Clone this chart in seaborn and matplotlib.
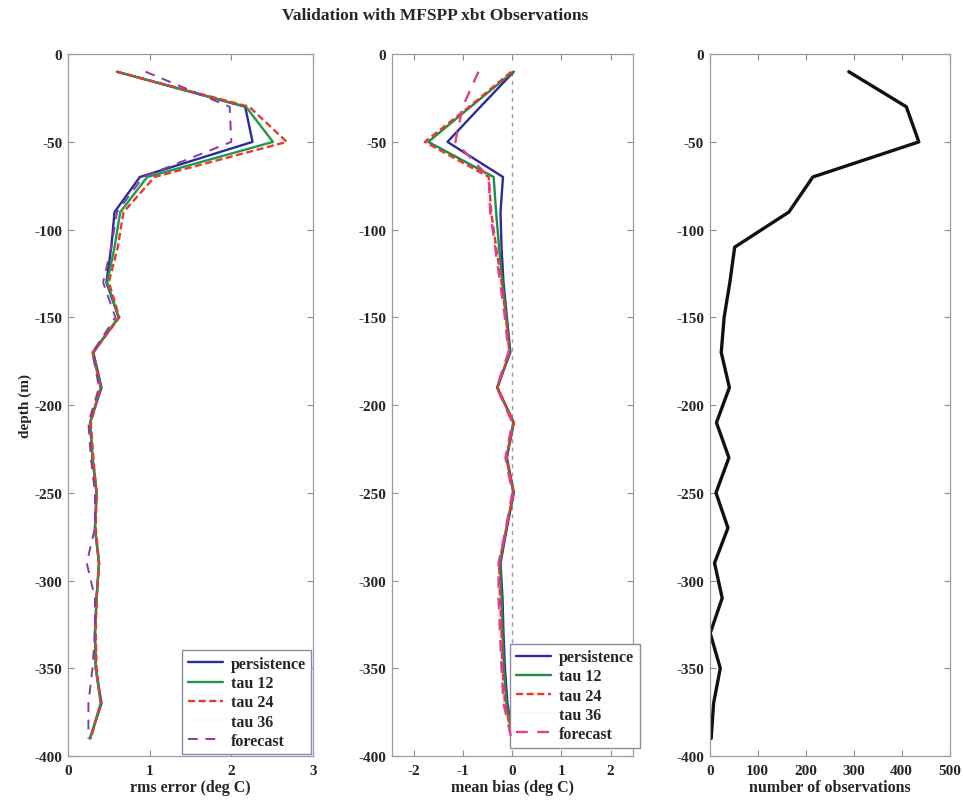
import numpy as np
import pandas as pd
import matplotlib
matplotlib.use("Agg")
import matplotlib.pyplot as plt
import seaborn as sns

# depth levels (m), every 20 m from -10 to -390
depth = [-10, -30, -50, -70, -90, -110, -130, -150, -170, -190,
         -210, -230, -250, -270, -290, -310, -330, -350, -370, -390]

# rms error (deg C)
rms_persistence = [0.60, 2.17, 2.26, 0.88, 0.57, 0.53, 0.47, 0.62, 0.31, 0.41,
                   0.27, 0.30, 0.35, 0.33, 0.38, 0.35, 0.33, 0.34, 0.41, 0.27]
rms_tau12 = [0.60, 2.18, 2.51, 0.97, 0.64, 0.57, 0.48, 0.62, 0.30, 0.40,
             0.27, 0.30, 0.35, 0.33, 0.38, 0.35, 0.33, 0.34, 0.40, 0.27]
rms_tau24 = [0.60, 2.22, 2.68, 1.06, 0.68, 0.61, 0.50, 0.63, 0.31, 0.40,
             0.28, 0.31, 0.35, 0.34, 0.38, 0.35, 0.34, 0.35, 0.40, 0.28]
rms_tau36 = [0.60, 2.20, 2.60, 1.02, 0.66, 0.59, 0.49, 0.62, 0.31, 0.40,
             0.28, 0.31, 0.35, 0.34, 0.38, 0.35, 0.34, 0.35, 0.40, 0.28]
rms_forecast = [0.95, 1.98, 2.00, 0.92, 0.60, 0.53, 0.43, 0.58, 0.30, 0.38,
                0.25, 0.28, 0.33, 0.33, 0.23, 0.33, 0.33, 0.30, 0.25, 0.25]

# mean bias (deg C)
bias_persistence = [0.03, -0.65, -1.32, -0.19, -0.24, -0.22, -0.18, -0.11, -0.04, -0.31,
                    0.03, -0.11, 0.03, -0.11, -0.24, -0.20, -0.18, -0.15, -0.10, 0.02]
bias_tau12 = [0.02, -0.85, -1.71, -0.38, -0.33, -0.27, -0.20, -0.12, -0.05, -0.30,
              0.02, -0.12, 0.02, -0.12, -0.25, -0.22, -0.20, -0.17, -0.12, 0.00]
bias_tau24 = [-0.02, -0.88, -1.78, -0.48, -0.43, -0.33, -0.22, -0.13, -0.06, -0.30,
              0.03, -0.12, 0.03, -0.12, -0.27, -0.25, -0.22, -0.20, -0.15, 0.00]
bias_tau36 = [0.00, -0.86, -1.75, -0.44, -0.40, -0.31, -0.21, -0.12, -0.05, -0.30,
              0.03, -0.12, 0.03, -0.12, -0.26, -0.24, -0.21, -0.19, -0.14, 0.00]
bias_forecast = [-0.69, -1.01, -1.16, -0.48, -0.45, -0.35, -0.25, -0.15, -0.08, -0.32,
                 0.00, -0.14, 0.00, -0.13, -0.28, -0.28, -0.25, -0.22, -0.18, -0.02]

# number of observations
n_obs = [290, 410, 436, 215, 165, 52, 42, 30, 24, 41,
         14, 40, 13, 38, 10, 26, 1, 22, 8, 3]

labels = ["persistence", "tau 12", "tau 24", "tau 36", "forecast"]

sns.set_style("ticks")
plt.rcParams["font.family"] = ["Liberation Serif", "DejaVu Serif"]
plt.rcParams["font.weight"] = "bold"
plt.rcParams["axes.unicode_minus"] = False

fig = plt.figure(figsize=(9.63, 8.03), dpi=100)
ax1 = fig.add_axes([0.0706, 0.0573, 0.2544, 0.874])
ax2 = fig.add_axes([0.407, 0.0573, 0.250, 0.874])
ax3 = fig.add_axes([0.737, 0.0573, 0.249, 0.874])

# (colour, linestyle, width, zorder); tau 36 was drawn in a near-white colour
styles_left = [
    ("#2b2b9c", "-", 1.7, 3),
    ("#1f9a4c", "-", 1.7, 4),
    ("#ea3a2a", (0, (3, 1.5)), 1.7, 5),
    ("#f4fbfb", "-", 1.2, 1),
    ("#8a3a9e", (0, (5, 4)), 1.4, 6),
]
styles_mid = [
    ("#2b2b9c", "-", 1.7, 3),
    ("#1f8a4c", "-", 1.7, 4),
    ("#ea3a2a", (0, (3, 1.5)), 1.7, 5),
    ("#f4fbfb", "-", 1.2, 1),
    ("#e0408e", (0, (5, 4)), 1.7, 6),
]

rms_series = [rms_persistence, rms_tau12, rms_tau24, rms_tau36, rms_forecast]
bias_series = [bias_persistence, bias_tau12, bias_tau24, bias_tau36, bias_forecast]

for vals, lab, (c, ls, lw, z) in zip(rms_series, labels, styles_left):
    df = pd.DataFrame({"x": vals, "depth": depth})
    sns.lineplot(data=df, x="x", y="depth", sort=False, estimator=None, orient="y",
                 color=c, linestyle=ls, linewidth=lw, label=lab, zorder=z, ax=ax1)

# zero reference line
ax2.plot(np.zeros(len(depth)), depth, color="#9a9aa8", linestyle=(0, (3, 3)),
         linewidth=1, zorder=2)
for vals, lab, (c, ls, lw, z) in zip(bias_series, labels, styles_mid):
    df = pd.DataFrame({"x": vals, "depth": depth})
    sns.lineplot(data=df, x="x", y="depth", sort=False, estimator=None, orient="y",
                 color=c, linestyle=ls, linewidth=lw, label=lab, zorder=z, ax=ax2)

sns.lineplot(x=n_obs, y=depth, sort=False, estimator=None, orient="y",
             color="#111111", linewidth=2.4, ax=ax3)

fs = 11
for ax in (ax1, ax2, ax3):
    ax.set_ylim(-400, 0)
    ax.set_yticks(np.arange(-400, 1, 50))
    ax.tick_params(direction="in", top=True, right=True, length=4,
                   color="#8a8aa0", labelsize=fs)
    ax.tick_params(axis="x", pad=6)
    ax.tick_params(axis="y", pad=4)
    for sp in ax.spines.values():
        sp.set_visible(True)
        sp.set_color("#9a9ab0")
        sp.set_linewidth(0.9)
    ax.set_ylabel("")

ax1.set_xlim(0, 3)
ax1.set_xticks([0, 1, 2, 3])
ax2.set_xlim(-2.45, 2.45)
ax2.set_xticks([-2, -1, 0, 1, 2])
ax3.set_xlim(0, 500)
ax3.set_xticks([0, 100, 200, 300, 400, 500])
for ax in (ax1, ax2, ax3):
    for lab in ax.get_xticklabels() + ax.get_yticklabels():
        lab.set_fontweight("bold")

ax1.set_xlabel("rms error (deg C)", fontsize=11.5, fontweight="bold", labelpad=1)
ax2.set_xlabel("mean bias (deg C)", fontsize=11.5, fontweight="bold", labelpad=1)
ax3.set_xlabel("number of observations", fontsize=11.5, fontweight="bold", labelpad=1)
ax1.set_ylabel("depth (m)", fontsize=11, fontweight="bold", labelpad=2)

leg_kw = dict(loc="lower right", handlelength=2.2, handletextpad=0.5,
              labelspacing=0.2, borderpad=0.35, fancybox=False,
              framealpha=1, edgecolor="#8a8aa0", prop={"weight": "bold", "size": 11.5})
ax1.legend(borderaxespad=0.1, **leg_kw)
ax2.legend(bbox_to_anchor=(1.03, 0.012), borderaxespad=0, **leg_kw)

fig.suptitle("Validation with MFSPP xbt Observations", x=0.452, y=0.99,
             fontsize=12.5, fontweight="bold")

fig.savefig("out.png", dpi=100)
